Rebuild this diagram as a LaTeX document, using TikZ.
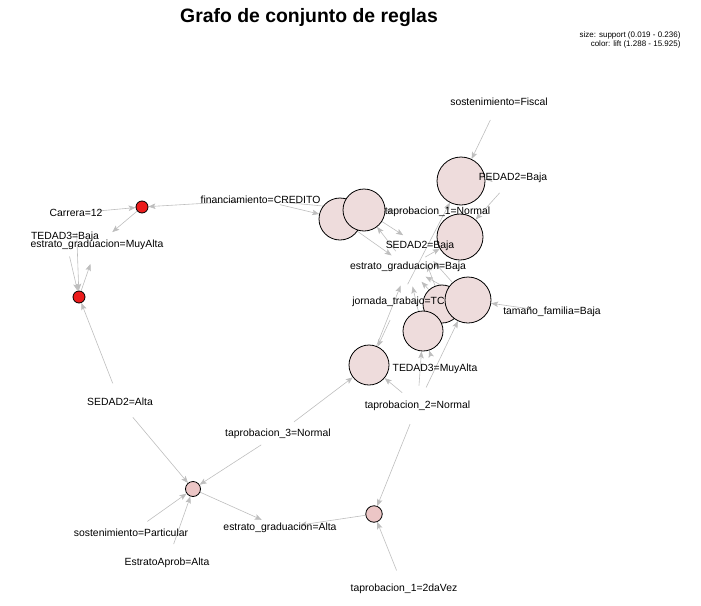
\documentclass[tikz,border=0pt]{standalone}
\usepackage{fontspec}
\setmainfont{Liberation Sans}
\usetikzlibrary{arrows.meta,backgrounds}

\definecolor{liftlow}{RGB}{238,220,220}
\definecolor{liftmid}{RGB}{236,198,198}
\definecolor{lifthigh}{RGB}{236,28,28}
\definecolor{arcgray}{RGB}{190,190,190}

\begin{document}
\begin{tikzpicture}[
    x=1pt, y=-1pt,
    rulenode/.style={circle, draw=black, line width=0.8pt, inner sep=0pt},
    itemlabel/.style={inner sep=0pt, font=\fontsize{10.4}{12}\selectfont},
    link/.style={draw=arcgray, line width=0.6pt, -{Stealth[length=7pt,width=5.5pt,inset=1.5pt]}},
    lhs/.style={link, shorten <=20pt},
    rhs/.style={link, shorten >=20pt}
]
    \useasboundingbox (0,0) rectangle (701,605);

    % Title and legend
    \node[font=\fontsize{19.4}{22}\selectfont\bfseries] (title) at (309,18) {Grafo de conjunto de reglas};
    \node[anchor=east, font=\fontsize{8}{9}\selectfont] (legsize) at (684,35) {size: support (0.019 - 0.236)};
    \node[anchor=east, font=\fontsize{8}{9}\selectfont] (legcolor) at (684,44) {color: lift (1.288 - 15.925)};

    % Rules (circles)
    \node[rulenode, fill=lifthigh, minimum size=12pt] (r1) at (142,207) {};
    \node[rulenode, fill=lifthigh, minimum size=12pt] (r2) at (79,297) {};
    \node[rulenode, fill=liftlow, minimum size=42pt] (r3) at (340,219) {};
    \node[rulenode, fill=liftlow, minimum size=42pt] (r4) at (364,210) {};
    \node[rulenode, fill=liftlow, minimum size=48pt] (r5) at (461,181) {};
    \node[rulenode, fill=liftlow, minimum size=46pt] (r6) at (460,237) {};
    \node[rulenode, fill=liftlow, minimum size=38pt] (r7) at (442,304) {};
    \node[rulenode, fill=liftlow, minimum size=46pt] (r8) at (468,300) {};
    \node[rulenode, fill=liftlow, minimum size=40pt] (r9) at (423,331) {};
    \node[rulenode, fill=liftlow, minimum size=40pt] (r10) at (369,365) {};
    \node[rulenode, fill=liftmid, minimum size=15pt] (r11) at (193,489) {};
    \node[rulenode, fill=liftmid, minimum size=16.5pt] (r12) at (374,514) {};

    % Items (labels)
    \node[itemlabel] (carrera) at (76,213) {Carrera=12};
    \node[itemlabel] (tedadbaja) at (65,237) {TEDAD3=Baja};
    \node[itemlabel] (egmuyalta) at (97,245) {estrato\_graduacion=MuyAlta};
    \node[itemlabel] (credito) at (260.5,200) {financiamiento=CREDITO};
    \node[itemlabel] (fiscal) at (499,102) {sostenimiento=Fiscal};
    \node[itemlabel] (pedad) at (513,178) {PEDAD2=Baja};
    \node[itemlabel] (tapnormal) at (437.5,212) {taprobacion\_1=Normal};
    \node[itemlabel] (sedadbaja) at (420,246) {SEDAD2=Baja};
    \node[itemlabel] (egbaja) at (408,267) {estrato\_graduacion=Baja};
    \node[itemlabel] (jornada) at (398.5,302) {jornada\_trabajo=TC};
    \node[itemlabel] (tamano) at (552,312) {tamaño\_familia=Baja};
    \node[itemlabel] (tedadmuyalta) at (435,369) {TEDAD3=MuyAlta};
    \node[itemlabel] (taptwo) at (417.5,405.5) {taprobacion\_2=Normal};
    \node[itemlabel] (sedadalta) at (120,402) {SEDAD2=Alta};
    \node[itemlabel] (tapthree) at (278,434) {taprobacion\_3=Normal};
    \node[itemlabel] (particular) at (131,533) {sostenimiento=Particular};
    \node[itemlabel] (estratoaprob) at (167,563) {EstratoAprob=Alta};
    \node[itemlabel] (egalta) at (280,528) {estrato\_graduacion=Alta};
    \node[itemlabel] (tapdos) at (404,589) {taprobacion\_1=2daVez};

    % Arcs item -> rule -> item
    \begin{scope}[on background layer]
    \draw[lhs] (carrera.center) -- (r1);
    \draw[lhs] (credito.center) -- (r1);
    \draw[rhs] (r1) -- (egmuyalta.center);
    \draw[lhs] (carrera.center) -- (r2);
    \draw[lhs] (tedadbaja.center) -- (r2);
    \draw[lhs] (sedadalta.center) -- (r2);
    \draw[rhs] (r2) -- (egmuyalta.center);
    \draw[lhs] (credito.center) -- (r3);
    \draw[lhs] (credito.center) -- (r4);
    \draw[rhs] (r3) -- (egbaja.center);
    \draw[rhs] (r4) -- (sedadbaja.center);
    \draw[lhs] (tapnormal.center) -- (r4);
    \draw[lhs] (egbaja.center) -- (r4);
    \draw[lhs] (fiscal.center) -- (r5);
    \draw[lhs] (pedad.center) -- (r5);
    \draw[lhs] (jornada.center) -- (r5);
    \draw[lhs] (pedad.center) -- (r6);
    \draw[lhs] (egbaja.center) -- (r6);
    \draw[rhs] (r7) -- (egbaja.center);
    \draw[rhs] (r7) -- (sedadbaja.center);
    \draw[rhs] (r8) -- (egbaja.center);
    \draw[rhs] (r8) -- (sedadbaja.center);
    \draw[lhs] (tamano.center) -- (r8);
    \draw[lhs] (taptwo.center) -- (r8);
    \draw[rhs] (r9) -- (egbaja.center);
    \draw[lhs] (taptwo.center) -- (r9);
    \draw[lhs] (tedadmuyalta.center) -- (r9);
    \draw[rhs] (r10) -- (egbaja.center);
    \draw[lhs] (jornada.center) -- (r10);
    \draw[lhs] (taptwo.center) -- (r10);
    \draw[lhs] (tapthree.center) -- (r10);
    \draw[lhs] (tapthree.center) -- (r11);
    \draw[lhs] (sedadalta.center) -- (r11);
    \draw[lhs] (particular.center) -- (r11);
    \draw[lhs] (estratoaprob.center) -- (r11);
    \draw[rhs] (r11) -- (egalta.center);
    \draw[rhs] (r12) -- (egalta.center);
    \draw[lhs] (taptwo.center) -- (r12);
    \draw[lhs] (tapdos.center) -- (r12);
    \end{scope}
\end{tikzpicture}
\end{document}
